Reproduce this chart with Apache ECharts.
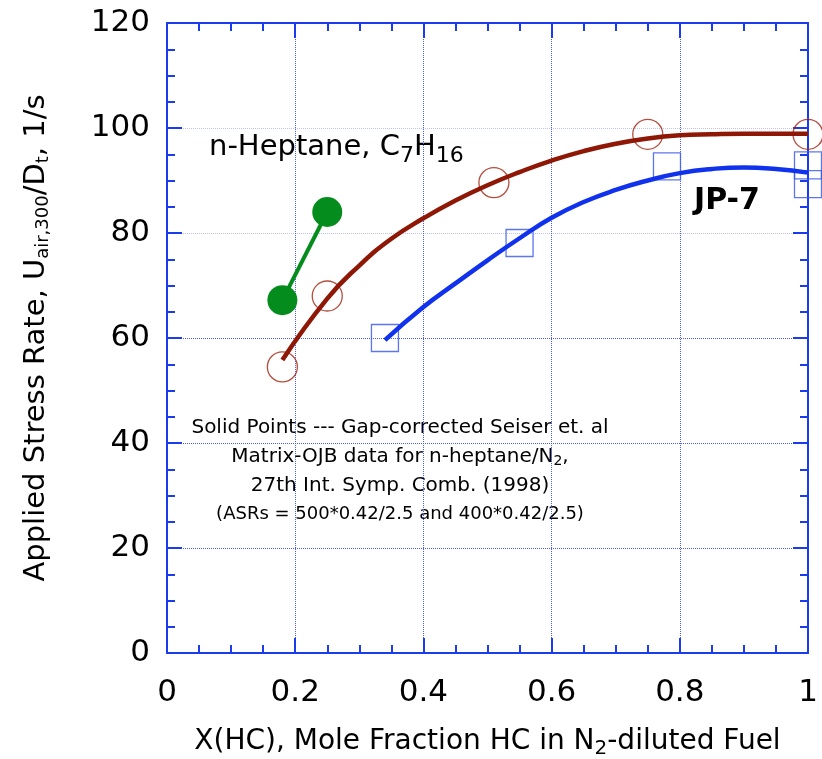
<!DOCTYPE html>
<html>
<head>
<meta charset="utf-8">
<script src="https://cdn.jsdelivr.net/npm/echarts@6/dist/echarts.min.js"></script>
<style>
  html, body { margin: 0; padding: 0; background: #fff; }
  #chart { width: 822px; height: 759px; }
</style>
</head>
<body>
<div id="chart"></div>
<script>
// measured points, n-heptane (open circles)
const heptaneX = [0.18, 0.25, 0.51, 0.75, 1.0];
const heptaneY = [54.5, 68, 89.6, 98.8, 98.8];
// JP-7 (open squares)
const jp7X = [0.34, 0.55, 0.78, 1.0, 1.0];
const jp7Y = [60, 78.1, 92.7, 92.9, 89.3];
// Seiser et al, gap-corrected (solid points)
const seiserX = [0.18, 0.25];
const seiserY = [67.2, 84.0];
// fitted curves
const heptaneFitX = [0.18, 0.25, 0.3, 0.35, 0.4, 0.45, 0.5, 0.55, 0.6, 0.65, 0.7, 0.75, 0.8, 0.85, 0.9, 0.95, 1.0];
const heptaneFitY = [55.8, 67.5, 73.8, 78.9, 82.8, 86.2, 89.1, 91.6, 93.8, 95.6, 97.0, 98.0, 98.6, 98.8, 98.9, 98.9, 98.9];
const jp7FitX = [0.34, 0.4, 0.45, 0.5, 0.55, 0.6, 0.65, 0.7, 0.75, 0.8, 0.85, 0.9, 0.95, 1.0];
const jp7FitY = [59.6, 65.9, 70.4, 74.8, 79.0, 82.9, 85.9, 88.2, 90.0, 91.4, 92.2, 92.5, 92.2, 91.5];

const xTicks = [0, 1, 0.2];   // min, max, step
const yTicks = [0, 120, 20];

const zip = (xs, ys) => xs.map((x, i) => [x, ys[i]]);

const blue = '#1a3cf0';
const font = 'DejaVu Sans';

const myChart = echarts.init(document.getElementById('chart'));

function axisBase(extra) {
  return Object.assign({
    type: 'value',
    axisLine: { show: true, onZero: false, lineStyle: { color: blue, width: 2 } },
    axisTick: { show: true, inside: true, length: 15, lineStyle: { color: blue, width: 2 } },
    minorTick: { show: true, splitNumber: 4, length: 8, lineStyle: { color: blue, width: 2 } },
    splitLine: { show: false },
    axisLabel: { show: false }
  }, extra);
}

myChart.setOption({
  animation: false,
  grid: { left: 167, right: 14, top: 23, bottom: 106, containLabel: false, outerBoundsMode: 'none' },
  xAxis: [
    axisBase({
      min: xTicks[0], max: xTicks[1], interval: xTicks[2],
      position: 'bottom',
      axisLabel: { show: true, color: '#000', fontFamily: font, fontSize: 31, margin: 24 },
      splitLine: { show: true, lineStyle: { color: '#4a5cf5', width: 1, type: 'dotted' } },
      name: 'X(HC), Mole Fraction HC in N{s|2}-diluted Fuel',
      nameLocation: 'middle',
      nameGap: 72,
      nameMoveOverlap: false,
      nameTextStyle: {
        color: '#000', fontFamily: font, fontSize: 28,
        rich: { s: { fontFamily: font, fontSize: 20, padding: [14, 0, 0, 0] } }
      }
    }),
    axisBase({ min: xTicks[0], max: xTicks[1], interval: xTicks[2], position: 'top' })
  ],
  yAxis: [
    axisBase({
      min: yTicks[0], max: yTicks[1], interval: yTicks[2],
      position: 'left',
      axisLabel: { show: true, color: '#000', fontFamily: font, fontSize: 31, margin: 17 },
      splitLine: {
        show: true,
        lineStyle: { color: ['#4a5cf5', '#4a5cf5', '#4a5cf5', '#4a5cf5', '#b9c2fb', '#b9c2fb', '#b9c2fb'], width: 1, type: 'dotted' }
      },
      name: 'Applied Stress Rate, U{s|air,300}/D{s|t}, 1/s',
      nameLocation: 'middle',
      nameGap: 115,
      nameRotate: 90,
      nameMoveOverlap: false,
      nameTextStyle: {
        color: '#000', fontFamily: font, fontSize: 29,
        rich: { s: { fontFamily: font, fontSize: 18, padding: [14, 0, 0, 0] } }
      }
    }),
    axisBase({ min: yTicks[0], max: yTicks[1], interval: yTicks[2], position: 'right' })
  ],
  series: [
    {
      type: 'line', name: 'heptane fit',
      data: zip(heptaneFitX, heptaneFitY),
      smooth: 0.5, showSymbol: false,
      lineStyle: { color: '#8e1705', width: 4.5 }
    },
    {
      type: 'line', name: 'JP-7 fit',
      data: zip(jp7FitX, jp7FitY),
      smooth: 0.5, showSymbol: false,
      lineStyle: { color: '#1032ec', width: 4.5 }
    },
    {
      type: 'scatter', name: 'n-Heptane',
      data: zip(heptaneX, heptaneY),
      symbol: 'circle', symbolSize: 30,
      itemStyle: { color: 'rgba(0,0,0,0)', borderColor: '#a3200e', borderWidth: 1.3 }
    },
    {
      type: 'scatter', name: 'JP-7',
      data: zip(jp7X, jp7Y),
      symbol: 'rect', symbolSize: 27,
      itemStyle: { color: 'rgba(0,0,0,0)', borderColor: '#3554e8', borderWidth: 1.3 }
    },
    {
      type: 'line', name: 'Seiser',
      data: zip(seiserX, seiserY),
      symbol: 'circle', symbolSize: 30, showSymbol: true,
      lineStyle: { color: '#048c1c', width: 4 },
      itemStyle: { color: '#048c1c' }
    }
  ],
  graphic: [
    {
      type: 'text', left: 209, top: 133,
      style: {
        text: 'n-Heptane, C{s|7}H{s|16}',
        font: '29px "DejaVu Sans"', fill: '#000',
        rich: { s: { fontFamily: font, fontSize: 22, padding: [17, 0, 0, 0] } }
      }
    },
    {
      type: 'text', left: 694, top: 186,
      style: { text: 'JP-7', font: 'bold 30px "DejaVu Sans"', fill: '#000' }
    },
    {
      type: 'text', x: 400, y: 413,
      style: {
        text: '{a|Solid Points --- Gap-corrected Seiser et. al}\n' +
              '{a|Matrix-OJB data for n-heptane/N}{b|2}{a|,}\n' +
              '{a|27th Int. Symp. Comb. (1998)}\n' +
              '{c|(ASRs = 500*0.42/2.5 and 400*0.42/2.5)}',
        align: 'center', fill: '#000',
        rich: {
          a: { fontFamily: font, fontSize: 20, lineHeight: 29, align: 'center' },
          b: { fontFamily: font, fontSize: 14, lineHeight: 29, padding: [10, 0, 0, 0] },
          c: { fontFamily: font, fontSize: 18, lineHeight: 29, align: 'center' }
        }
      }
    }
  ]
});

window.addEventListener('resize', () => {
  myChart.resize();
});
</script>
</body>
</html>
